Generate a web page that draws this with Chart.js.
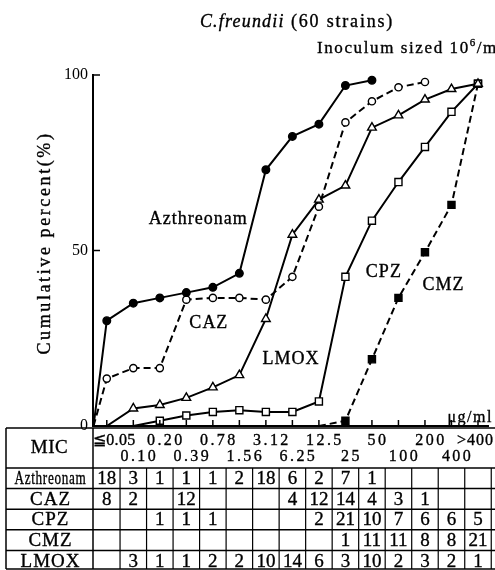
<!DOCTYPE html>
<html>
<head>
<meta charset="utf-8">
<script src="https://cdn.jsdelivr.net/npm/chart.js@4.4.1/dist/chart.umd.min.js"></script>
<style>
  html, body { margin: 0; padding: 0; background: #fff; }
</style>
</head>
<body>
<canvas id="mic-chart" width="495" height="570"></canvas>
<script>
const micLabels = ["≦0.05", "0.10", "0.20", "0.39", "0.78", "1.56", "3.12", "6.25", "12.5", "25", "50", "100", "200", "400", ">400"];
const drugNames = ["Azthreonam", "CAZ", "CPZ", "CMZ", "LMOX"];

// number of strains per MIC column (table under the plot)
const aztCounts = [18, 3, 1, 1, 1, 2, 18, 6, 2, 7, 1, null, null, null, null];
const cazCounts = [8, 2, null, 12, null, null, null, 4, 12, 14, 4, 3, 1, null, null];
const cpzCounts = [null, null, 1, 1, 1, null, null, null, 2, 21, 10, 7, 6, 6, 5];
const cmzCounts = [null, null, null, null, null, null, null, null, null, 1, 11, 11, 8, 8, 21];
const lmoxCounts = [null, 3, 1, 1, 2, 2, 10, 14, 6, 3, 10, 2, 3, 2, 1];

// plotted positions: the origin of the axes, then one per MIC column
const plotX = [-0.5, 0, 1, 2, 3, 4, 5, 6, 7, 8, 9, 10, 11, 12, 13, 14];
// cumulative percent as drawn in the figure
const aztPct = [0, 30, 35, 36.5, 38, 39.5, 43.5, 73, 82.5, 86, 97, 98.5, null, null, null, null];
const cazPct = [0, 13.5, 16.5, 16.5, 36, 36.5, 36.5, 36, 42.5, 62.5, 86.5, 92.5, 96.5, 98, null, null];
const lmoxPct = [null, 0, 5, 6, 8, 11, 14.5, 30.5, 54.5, 64.5, 68.5, 85, 88.5, 93, 96, 97.5];
const cpzPct = [null, null, 0, 1.5, 3, 4, 4.5, 4, 4, 7, 42.5, 58.5, 69.5, 79.5, 89.5, 97.5];
const cmzPct = [null, null, null, null, null, null, null, null, null, 0, 1.5, 19, 36.5, 49.5, 63, 97.5];

const tableRows = [aztCounts, cazCounts, cpzCounts, cmzCounts, lmoxCounts];
const serif = '"Liberation Serif", "DejaVu Serif", serif';

function toPoints(values) {
  return plotX.map((x, i) => ({ x: x, y: values[i] }));
}
function firstIndex(values) {
  return values.findIndex((v) => v !== null);
}
// the line starting point carries no marker
function markerRadius(values, r) {
  const start = firstIndex(values);
  return (c) => (c.dataIndex === start ? 0 : r);
}

function lineSeries(label, values, style) {
  return Object.assign({
    label: label,
    data: toPoints(values),
    borderColor: "#000",
    borderWidth: 2,
    pointBorderColor: "#000",
    pointBorderWidth: 1.4,
    pointRadius: markerRadius(values, style.radius),
    spanGaps: false,
    tension: 0,
  }, style);
}

function drawText(ctx, str, px, py, font, align, spacing, maxWidth) {
  ctx.font = font;
  ctx.letterSpacing = (spacing || 0) + "px";
  ctx.textAlign = align || "center";
  ctx.textBaseline = "middle";
  ctx.lineWidth = 0.35;
  if (maxWidth) {
    ctx.fillText(str, px, py, maxWidth);
    ctx.strokeText(str, px, py, maxWidth);
  } else {
    ctx.fillText(str, px, py);
    ctx.strokeText(str, px, py);
  }
}
function drawLine(ctx, x1, y1, x2, y2) {
  ctx.beginPath();
  ctx.moveTo(x1, y1);
  ctx.lineTo(x2, y2);
  ctx.stroke();
}

const paperExtras = {
  id: "paperExtras",
  afterDraw(chart) {
    const ctx = chart.ctx;
    const x = chart.scales.x;
    const y = chart.scales.y;
    ctx.save();
    ctx.fillStyle = "#000";
    ctx.strokeStyle = "#000";

    // tick marks pointing into the plot
    ctx.lineWidth = 1.5;
    [50, 100].forEach((v) => {
      const py = y.getPixelForValue(v);
      drawLine(ctx, x.left, py, x.left + 7, py);
    });
    micLabels.forEach((_, i) => {
      const px = x.getPixelForValue(i);
      drawLine(ctx, px, y.bottom, px, y.bottom - 6);
    });

    // headings
    const italicPart = "C.freundii";
    const restPart = " (60 strains)";
    ctx.font = "italic 18px " + serif;
    ctx.letterSpacing = "1.2px";
    const w1 = ctx.measureText(italicPart).width;
    ctx.font = "18px " + serif;
    ctx.letterSpacing = "1.8px";
    const w2 = ctx.measureText(restPart).width;
    const startX = 297 - (w1 + w2) / 2;
    drawText(ctx, italicPart, startX, 22, "italic 18px " + serif, "left", 1.2);
    drawText(ctx, restPart, startX + w1, 22, "18px " + serif, "left", 1.8);

    drawText(ctx, "Inoculum sized 10", 317, 49, "17px " + serif, "left", 1.6);
    ctx.font = "17px " + serif;
    ctx.letterSpacing = "1.6px";
    const w3 = ctx.measureText("Inoculum sized 10").width;
    drawText(ctx, "6", 317 + w3, 43, "11px " + serif, "left", 0);
    drawText(ctx, "/ml", 317 + w3 + 7, 49, "17px " + serif, "left", 1.6);

    // y axis title
    ctx.save();
    ctx.translate(45, 243);
    ctx.rotate(-Math.PI / 2);
    drawText(ctx, "Cumulative percent(%)", 0, 0, "18px " + serif, "center", 2.6);
    ctx.restore();

    // curve labels
    const lab = "18px " + serif;
    drawText(ctx, "Azthreonam", x.getPixelForValue(3.45), y.getPixelForValue(59), lab, "center", 1);
    drawText(ctx, "CAZ", x.getPixelForValue(3.85), y.getPixelForValue(29.4), lab, "center", 1);
    drawText(ctx, "LMOX", x.getPixelForValue(6.95), y.getPixelForValue(19), lab, "center", 1);
    drawText(ctx, "CPZ", x.getPixelForValue(10.45), y.getPixelForValue(43.8), lab, "center", 1);
    drawText(ctx, "CMZ", x.getPixelForValue(12.7), y.getPixelForValue(40), lab, "center", 1);
    drawText(ctx, "μg/ml", x.getPixelForValue(12.85), y.getPixelForValue(2.4), "16px " + serif, "left", 1.5);

    // MIC table
    const top = y.bottom + 2;
    const headBottom = top + 40;
    const rowH = 20.6;
    const left = 6;
    const right = chart.width;
    const bottom = chart.height - 1;
    ctx.lineWidth = 1.5;
    drawLine(ctx, left, top, right, top);
    drawLine(ctx, left, top, left, bottom);
    drawLine(ctx, x.left, top, x.left, bottom);
    drawLine(ctx, left, headBottom, right, headBottom);
    for (let r = 1; r <= drugNames.length; r++) {
      const ry = Math.min(headBottom + rowH * r, bottom);
      drawLine(ctx, left, ry, right, ry);
    }
    ctx.lineWidth = 1.2;
    micLabels.forEach((_, i) => {
      const px = x.getPixelForValue(i + 0.5);
      drawLine(ctx, px, headBottom, px, bottom);
    });

    const midName = (left + x.left) / 2;
    drawText(ctx, "MIC", midName, top + 20, "19px " + serif, "center", 0.5);
    const headFont = "16px " + serif;
    micLabels.forEach((lbl, i) => {
      const px = x.getPixelForValue(i);
      const py = i % 2 === 0 ? top + 13 : top + 29;
      if (i === 0) {
        drawText(ctx, lbl, x.left, py, headFont, "left", 0.3);
      } else if (i === micLabels.length - 1) {
        drawText(ctx, lbl, chart.width - 1, py, headFont, "right", 1);
      } else {
        drawText(ctx, lbl, px + 6, py, headFont, "center", 2.4);
      }
    });

    const cellFont = "19px " + serif;
    drugNames.forEach((name, r) => {
      const cy = headBottom + rowH * r + rowH / 2 + 1;
      drawText(ctx, name, midName + 1, cy, cellFont, "center", 1, r === 0 ? 72 : undefined);
      tableRows[r].forEach((n, i) => {
        if (n === null) return;
        drawText(ctx, String(n), x.getPixelForValue(i), cy, cellFont, "center", 0);
      });
    });

    ctx.restore();
  },
};

new Chart(document.getElementById("mic-chart"), {
  type: "line",
  data: {
    datasets: [
      lineSeries("Azthreonam", aztPct, {
        pointStyle: "circle", radius: 3.8, pointBackgroundColor: "#000",
      }),
      lineSeries("CAZ", cazPct, {
        pointStyle: "circle", radius: 3.6, pointBackgroundColor: "#fff", borderDash: [7, 4],
      }),
      lineSeries("LMOX", lmoxPct, {
        pointStyle: "triangle", radius: 5, pointBackgroundColor: "#fff",
      }),
      lineSeries("CPZ", cpzPct, {
        pointStyle: "rect", radius: 5, pointBackgroundColor: "#fff",
      }),
      lineSeries("CMZ", cmzPct, {
        pointStyle: "rect", radius: 5, pointBackgroundColor: "#000", borderDash: [7, 4],
      }),
    ],
  },
  options: {
    responsive: false,
    devicePixelRatio: 1,
    animation: false,
    layout: { padding: { top: 75, right: 0, bottom: 142, left: 0 } },
    plugins: { legend: { display: false }, tooltip: { enabled: false } },
    scales: {
      x: {
        type: "linear",
        min: -0.52,
        max: 14.4,
        ticks: { display: false },
        grid: { drawOnChartArea: false, drawTicks: false },
        border: { color: "#000", width: 2 },
        afterFit: (scale) => { scale.height = 2; },
      },
      y: {
        min: 0,
        max: 100,
        ticks: {
          stepSize: 50,
          color: "#000",
          padding: 5,
          font: { family: serif, size: 16 },
        },
        grid: { drawOnChartArea: false, drawTicks: false },
        border: { color: "#000", width: 2 },
        afterFit: (scale) => { scale.width = 93; },
      },
    },
  },
  plugins: [paperExtras],
});
</script>
</body>
</html>
